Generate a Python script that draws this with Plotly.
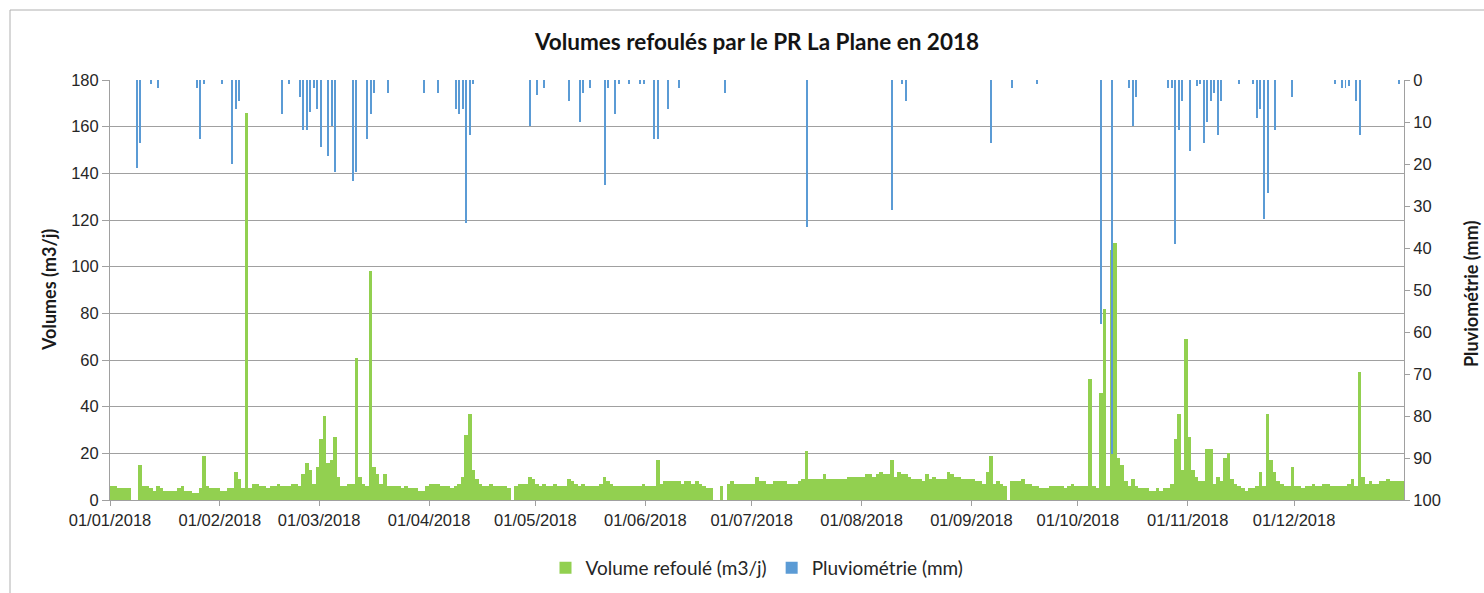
import pandas as pd
import plotly.graph_objects as go

# ---------------- DATA ----------------
year_start = "2018-01-01"

vol_jan = [6, 6, 5, 5, 5, 5, 0, 0, 15, 6, 6, 5, 4, 6, 5, 4, 4, 4, 4, 5, 6, 4, 4, 3, 3, 5, 19, 6, 5, 5, 5]
vol_feb = [4, 4, 5, 5, 12, 9, 5, 166, 5, 7, 7, 6, 6, 5, 6, 6, 7, 6, 6, 6, 7, 7, 6, 11, 16, 13, 7, 14]
vol_mar = [26, 36, 16, 17, 27, 10, 6, 6, 7, 7, 61, 10, 7, 6, 98, 14, 11, 7, 11, 6, 6, 6, 6, 5, 6, 5, 5, 5, 4, 4, 6]
vol_apr = [7, 7, 7, 6, 6, 6, 5, 6, 7, 10, 28, 37, 13, 9, 7, 6, 6, 7, 6, 6, 6, 6, 5, 0, 6, 7, 7, 7, 10, 9]
vol_may = [7, 6, 7, 6, 6, 7, 6, 6, 6, 9, 8, 7, 6, 7, 6, 6, 6, 6, 7, 10, 8, 7, 6, 6, 6, 6, 6, 6, 6, 6, 7]
vol_jun = [6, 6, 6, 17, 7, 8, 8, 8, 8, 8, 7, 8, 8, 7, 8, 7, 6, 5, 5, 0, 0, 6, 0, 7, 8, 7, 7, 7, 7, 7]
vol_jul = [7, 10, 8, 8, 7, 7, 8, 8, 8, 8, 7, 7, 7, 8, 9, 21, 9, 9, 9, 9, 11, 9, 9, 9, 9, 9, 9, 10, 10, 10, 10]
vol_aug = [10, 11, 11, 10, 11, 12, 11, 11, 17, 10, 12, 11, 11, 10, 9, 9, 9, 8, 11, 9, 10, 9, 9, 9, 12, 11, 10, 10, 9, 9, 9]
vol_sep = [9, 8, 8, 7, 12, 19, 7, 8, 7, 6, 0, 8, 8, 8, 9, 7, 7, 6, 6, 5, 5, 5, 6, 6, 6, 6, 5, 6, 7, 6]
vol_oct = [6, 6, 6, 52, 6, 5, 46, 82, 6, 107, 110, 18, 15, 8, 6, 9, 6, 5, 5, 5, 4, 4, 5, 4, 5, 5, 7, 26, 37, 13, 69]
vol_nov = [27, 13, 10, 8, 8, 22, 22, 7, 10, 8, 18, 20, 9, 7, 6, 5, 4, 5, 5, 6, 12, 6, 37, 17, 12, 8, 7, 6, 6, 14]
vol_dec = [6, 6, 5, 6, 6, 7, 6, 6, 7, 7, 6, 6, 6, 6, 6, 7, 9, 6, 55, 10, 7, 8, 7, 7, 8, 8, 9, 8, 8, 8, 8]

# rain: day of year (0 = 1 Jan) and millimetres
rain_day = [7, 8, 11, 13, 24, 25, 26, 31, 34, 35, 36,
            48, 50, 53, 54, 55, 56, 57, 58, 59, 61, 62, 63, 68, 69, 72, 73, 74, 78, 88, 92,
            97, 98, 99, 100, 101, 102,
            118, 120, 122, 129, 132, 133, 135, 139, 140, 142, 143, 146, 149, 150, 153, 154, 157, 160,
            173, 196, 220, 223, 224, 248, 254, 261, 279, 282,
            287, 288, 289, 298, 299, 300, 301, 302, 304, 306, 307, 308, 309, 310, 311, 312, 313,
            318, 322, 323, 324, 325, 326, 328, 333,
            345, 347, 348, 349, 351, 352, 363]
rain_mm = [21, 15, 1, 2, 2, 14, 1, 1, 20, 7, 5,
           8, 1, 4, 12, 12, 7.5, 2, 7, 16, 18, 11, 22, 24, 22, 14, 8, 3, 3, 3, 3,
           7, 8, 7, 34, 13, 1,
           11, 3.6, 2, 5, 10, 3, 2, 25, 2, 8, 1, 1, 1, 1, 14, 14, 7, 2,
           3, 35, 31, 1, 5, 15, 2, 1, 58, 89,
           2, 11, 4, 2, 2, 39, 12, 5, 17, 1.5, 1, 15, 10, 5, 3, 13, 5,
           1, 1, 9, 7, 33, 27, 12, 4,
           1, 2, 2, 1.5, 5, 13, 1]

month_ticks = ["2018-01-01", "2018-02-01", "2018-03-01", "2018-04-01", "2018-05-01", "2018-06-01",
               "2018-07-01", "2018-08-01", "2018-09-01", "2018-10-01", "2018-11-01", "2018-12-01"]
month_labels = ["01/01/2018", "01/02/2018", "01/03/2018", "01/04/2018", "01/05/2018", "01/06/2018",
                "01/07/2018", "01/08/2018", "01/09/2018", "01/10/2018", "01/11/2018", "01/12/2018"]

# ---------------- BUILD ----------------
volumes = vol_jan + vol_feb + vol_mar + vol_apr + vol_may + vol_jun + vol_jul + vol_aug + vol_sep + vol_oct + vol_nov + vol_dec
dates = pd.date_range(year_start, periods=len(volumes), freq="D")
half_day = pd.Timedelta(hours=12)
x_vol = dates + half_day
x_rain = [pd.Timestamp(year_start) + pd.Timedelta(days=d) + half_day for d in rain_day]
DAY_MS = 86400000

GREEN = "#92D050"
BLUE = "#5B9BD5"
GRID = "#a0a0a0"
TXT = "#262626"

fig = go.Figure()
fig.add_trace(go.Bar(
    x=x_vol, y=volumes, width=DAY_MS * 1.02, yaxis="y",
    marker=dict(color=GREEN, line=dict(width=0)),
    name="Volume refoulé (m3/j)",
))
fig.add_trace(go.Bar(
    x=x_rain, y=rain_mm, width=DAY_MS * 0.28, yaxis="y2",
    marker=dict(color=BLUE, line=dict(width=0)),
    name="Pluviométrie (mm)",
))

ARIAL = "Liberation Sans, Arial, sans-serif"
CALIBRI = "Lato, Carlito, Calibri, sans-serif"
tick_font = dict(family=ARIAL, size=16.5, color=TXT)
bold_font = dict(family=CALIBRI, size=18, color="#1a1a1a")

W, H = 1484, 593
PL, PR, PT, PB = 110, 1404, 80, 500          # plot area in picture pixels
L, R, T, B = PL, W - PR, PT, H - PB
pw, ph = PR - PL, PB - PT

def px(xp):
    return (xp - PL) / pw

def py(yp):
    return (PB - yp) / ph

fig.update_layout(
    width=W, height=H,
    margin=dict(l=L, r=R, t=T, b=B, pad=0, autoexpand=False),
    paper_bgcolor="white", plot_bgcolor="white",
    barmode="overlay", bargap=0,
    title=dict(text="<b>Volumes refoulés par le PR La Plane en 2018</b>",
               x=0.5, xref="paper", xanchor="center",
               y=1 - 42 / H, yref="container", yanchor="middle",
               font=dict(family=CALIBRI, size=22.5, color="#141414")),
    showlegend=True,
    legend=dict(orientation="h", x=0.5, xanchor="center", y=py(568), yanchor="middle",
                font=dict(family=CALIBRI, size=19, color=TXT),
                itemsizing="constant", itemwidth=30, tracegroupgap=0),
    xaxis=dict(type="date", range=["2018-01-01", "2019-01-01"],
               tickvals=month_ticks, ticktext=month_labels,
               ticks="outside", ticklen=5, tickcolor=GRID, tickwidth=1,
               showline=True, linecolor=GRID, linewidth=1,
               showgrid=False, zeroline=False, tickfont=tick_font),
    yaxis=dict(range=[0, 180], tick0=0, dtick=20,
               showgrid=True, gridcolor=GRID, gridwidth=1,
               ticks="outside", ticklen=7, tickcolor=GRID,
               showline=True, linecolor=GRID, linewidth=1,
               zeroline=False, tickfont=tick_font),
    yaxis2=dict(range=[100, 0], tick0=0, dtick=10, overlaying="y", side="right",
                showgrid=False, zeroline=False,
                showline=True, linecolor=GRID, linewidth=1,
                ticks="outside", ticklen=5, tickcolor=GRID, tickfont=tick_font),
    annotations=[
        dict(text="<b>Volumes (m3/j)</b>", x=px(49), y=py(290), xref="paper", yref="paper",
             textangle=-90, showarrow=False, xanchor="center", yanchor="middle", font=bold_font),
        dict(text="<b>Pluviométrie (mm)</b>", x=px(1471), y=py(294), xref="paper", yref="paper",
             textangle=-90, showarrow=False, xanchor="center", yanchor="middle", font=bold_font),
    ],
    shapes=[
        dict(type="rect", xref="paper", yref="paper",
             x0=px(10), x1=px(1500), y0=py(610), y1=py(10),
             line=dict(color="#b0b0b0", width=1), fillcolor="rgba(0,0,0,0)", layer="below"),
    ],
)

# remove the default 8 px page margin so the figure fills the window exactly
fig.write_html("out.html",
               config={"displayModeBar": False},
               post_script="document.body.style.margin='0';document.body.style.overflow='hidden';")
